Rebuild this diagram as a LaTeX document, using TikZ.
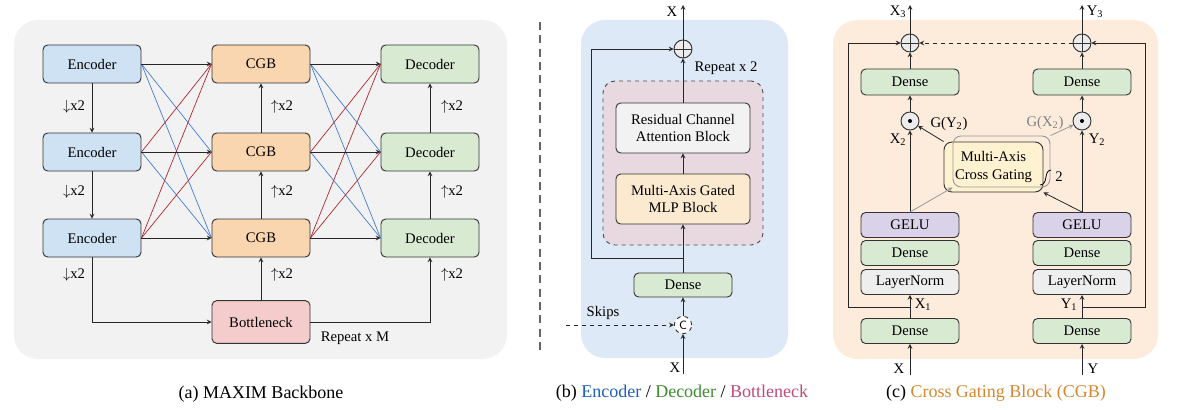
\documentclass[tikz,border=0pt]{standalone}
\usepackage{fontspec}
\setmainfont{Liberation Serif}
\usepackage{xcolor}
\definecolor{panelgray}{RGB}{242,242,242}
\definecolor{panelblue}{RGB}{221,233,246}
\definecolor{panelpeach}{RGB}{253,236,220}
\definecolor{encfill}{RGB}{207,226,243}
\definecolor{cgbfill}{RGB}{249,213,176}
\definecolor{decfill}{RGB}{217,234,211}
\definecolor{botfill}{RGB}{244,204,204}
\definecolor{repeatfill}{RGB}{232,216,224}
\definecolor{rcabfill}{RGB}{242,242,242}
\definecolor{mlpfill}{RGB}{251,234,208}
\definecolor{gelufill}{RGB}{217,210,233}
\definecolor{normfill}{RGB}{238,238,238}
\definecolor{gatefill}{RGB}{255,242,208}
\definecolor{opgray}{RGB}{236,236,236}
\definecolor{linkblue}{RGB}{60,120,216}
\definecolor{linkred}{RGB}{180,30,40}
\definecolor{encblue}{RGB}{30,95,185}
\definecolor{decgreen}{RGB}{60,140,45}
\definecolor{botpink}{RGB}{190,75,120}
\definecolor{cgborange}{RGB}{215,135,45}
\usepackage{tikz}
\usetikzlibrary{calc}
\usetikzlibrary{positioning}
\newcommand{\widthbox}{73.5pt}
\newcommand{\widthblock}{100.5pt}
\newcommand{\heightstage}{28.5pt}
\newcommand{\heightlayer}{18.75pt}
\newcommand{\heightblock}{37.5pt}
\newcommand{\boxfont}{\fontsize{11}{13}\selectfont}
\newcommand{\capfont}{\fontsize{13.5}{15}\selectfont}
\tikzset{
    common/.style={draw=black!80, rectangle, rounded corners=3.5pt, line width=0.7pt, font=\boxfont, align=center, inner sep=1pt},
    stagebox/.style={common, minimum width=\widthbox, minimum height=\heightstage},
    layerbox/.style={common, minimum width=\widthbox, minimum height=\heightlayer},
    blockbox/.style={common, minimum width=\widthblock, minimum height=\heightblock},
    lbl/.style={font=\boxfont, inner sep=1pt},
    op/.style={draw=black!80, circle, minimum size=13.5pt, inner sep=0pt, fill=opgray, line width=0.7pt},
    plusop/.style={op, path picture={
            \draw[black!80, line width=0.6pt]
                (path picture bounding box.north)--(path picture bounding box.south)
                (path picture bounding box.west)--(path picture bounding box.east);
        }
    },
    dotop/.style={op, path picture={ \fill[black] (path picture bounding box.center) circle (1.5pt); }},
    catop/.style={op, fill=white, dashed, minimum size=13pt, font=\sffamily\small},
    flow/.style={->, line width=0.6pt, black!85},
    bluefan/.style={line width=0.5pt, linkblue},
    redfan/.style={line width=0.5pt, linkred}
}

\begin{document}
\begin{tikzpicture}[x=0.75pt, y=-0.75pt, >=stealth]
    \useasboundingbox (0,0) rectangle (1184,410);

    % (a) backbone
    \fill[panelgray, rounded corners=18pt] (14,20) rectangle (507,359);
    \foreach \i/\y in {1/64, 2/152, 3/238} {
        \node[stagebox, fill=encfill] (enc\i) at (92,\y) {Encoder};
        \node[stagebox, fill=cgbfill] (cgb\i) at (261,\y) {CGB};
        \node[stagebox, fill=decfill] (dec\i) at (430,\y) {Decoder};
    }
    \node[stagebox, fill=botfill, minimum height=32pt] (bottle) at (261,322) {Bottleneck};

    \foreach \i/\j in {1/2, 1/3, 2/3} {
        \draw[bluefan] (enc\i.east) -- (cgb\j.west);
        \draw[bluefan] (cgb\i.east) -- (dec\j.west);
    }
    \foreach \i/\j in {2/1, 3/1, 3/2} {
        \draw[redfan] (enc\i.east) -- (cgb\j.west);
        \draw[redfan] (cgb\i.east) -- (dec\j.west);
    }
    \foreach \i in {1,2,3} {
        \draw[flow] (enc\i) -- (cgb\i);
        \draw[flow] (cgb\i) -- (dec\i);
    }
    \draw[flow] (enc1) -- (enc2);
    \draw[flow] (enc2) -- (enc3);
    \draw[flow] (cgb3) -- (cgb2);
    \draw[flow] (cgb2) -- (cgb1);
    \draw[flow] (dec3) -- (dec2);
    \draw[flow] (dec2) -- (dec1);
    \draw[flow] (bottle) -- (cgb3);
    \draw[flow] (enc3.south) |- (bottle.west);
    \draw[flow] (bottle.east) -| (dec3.south);

    \foreach \y [count=\k] in {107, 192, 275} {
        \node[lbl] (down\k) at (74,\y) {$\downarrow$x2};
        \node[lbl] (upc\k) at (282,\y) {$\uparrow$x2};
        \node[lbl] (upd\k) at (452,\y) {$\uparrow$x2};
    }
    \node[lbl] (repeatM) at (355,338) {Repeat x M};
    \node[font=\capfont] (capA) at (261,394) {(a) MAXIM Backbone};

    \coordinate (sepTop) at (540,22);
    \coordinate (sepBot) at (540,354);
    \draw[black!60, line width=0.8pt, dash pattern=on 6pt off 4pt] (sepTop) -- (sepBot);

    % (b) encoder / decoder / bottleneck
    \fill[panelblue, rounded corners=18pt] (581,20) rectangle (788,358);
    \node[draw=black!70, dashed, fill=repeatfill, rounded corners=9pt, line width=0.7pt,
          minimum width=120pt, minimum height=123pt] (repeatB) at (683,163) {};
    \node[blockbox, fill=rcabfill] (rcab) at (683,128) {Residual Channel\\Attention Block};
    \node[blockbox, fill=mlpfill] (mlp) at (683,199) {Multi-Axis Gated\\MLP Block};
    \node[layerbox, fill=decfill, minimum height=18pt] (denseB) at (683,285) {Dense};
    \node[plusop] (addB) at (683,49) {};
    \node[catop] (catB) at (683,325) {C};
    \coordinate (outB) at (683,5);
    \coordinate (inB) at (683,374);
    \coordinate (skipB) at (566,325);
    \coordinate (splitB) at (683,258);

    \draw[flow] (inB) -- (catB);
    \draw[flow, dashed] (skipB) -- (catB);
    \draw[flow] (catB) -- (denseB);
    \draw[flow] (denseB) -- (mlp);
    \draw[flow] (mlp) -- (rcab);
    \draw[flow] (rcab) -- (addB);
    \draw[flow] (addB) -- (outB);
    \draw[flow] (splitB) -- ++(-92,0) |- (addB.west);

    \node[lbl] (xoutB) at (672,12) {X};
    \node[lbl] (xinB) at (675,368) {X};
    \node[lbl] (repeat2) at (726,68) {Repeat x 2};
    \node[lbl] (skips) at (603,313) {Skips};
    \node[font=\capfont] (capB) at (682,393) {(b) \textcolor{encblue}{Encoder} / \textcolor{decgreen}{Decoder} / \textcolor{botpink}{Bottleneck}};

    % (c) cross gating block
    \fill[panelpeach, rounded corners=18pt] (833,20) rectangle (1158,359);
    \foreach \s/\x in {X/910, Y/1082} {
        \node[plusop] (add\s) at (\x,43) {};
        \node[layerbox, fill=decfill, minimum height=19.5pt] (top\s) at (\x,82) {Dense};
        \node[dotop] (dot\s) at (\x,121) {};
        \node[layerbox, fill=gelufill] (gelu\s) at (\x,225) {GELU};
        \node[layerbox, fill=decfill] (mid\s) at (\x,253) {Dense};
        \node[layerbox, fill=normfill] (norm\s) at (\x,282) {LayerNorm};
        \node[layerbox, fill=decfill] (low\s) at (\x,331) {Dense};
        \coordinate (in\s) at (\x,375);
        \coordinate (out\s) at (\x,5);
        \coordinate (split\s) at (\x,307);
        \draw[flow] (in\s) -- (low\s);
        \draw[flow] (low\s) -- (norm\s);
        \draw[flow] (gelu\s) -- (dot\s);
        \draw[flow] (dot\s) -- (top\s);
        \draw[flow] (top\s) -- (add\s);
        \draw[flow] (add\s) -- (out\s);
    }
    \draw[flow] (splitX) -- ++(-62,0) |- (addX.west);
    \draw[flow] (splitY) -- ++(63,0) |- (addY.east);
    \draw[flow, dashed] (addY.west) -- (addX.east);

    \node[common, fill=gatefill, minimum width=74.25pt, minimum height=37.5pt, rounded corners=6pt] (gate) at (993.5,167) {Multi-Axis\\Cross Gating};
    \node[draw=black!40, rectangle, rounded corners=6pt, line width=0.7pt,
          minimum width=72.75pt, minimum height=38.25pt] (gateback) at (1001.5,161.5) {};
    \draw[line width=0.6pt] (1040,185) .. controls (1049,184) and (1043,171) .. (1051,170);
    \node[lbl] (copies) at (1059,177) {2};

    \draw[flow, black!40] (geluX.north) -- (gateback.south west);
    \draw[flow] (geluY.north) -- (gate.south east);
    \draw[flow] (gate.north west) -- (dotX);
    \draw[flow, black!40] (gateback.north east) -- (dotY);

    \node[lbl] (gY) at (949,124) {G(Y\textsubscript{2})};
    \node[lbl, black!50] (gX) at (1045,123) {G(X\textsubscript{2})};
    \node[lbl] (x3) at (898,12) {X\textsubscript{3}};
    \node[lbl] (y3) at (1095,12) {Y\textsubscript{3}};
    \node[lbl] (x2) at (898,140) {X\textsubscript{2}};
    \node[lbl] (y2) at (1097,140) {Y\textsubscript{2}};
    \node[lbl] (x1) at (923,305) {X\textsubscript{1}};
    \node[lbl] (y1) at (1069,305) {Y\textsubscript{1}};
    \node[lbl] (xin) at (899,369) {X};
    \node[lbl] (yin) at (1093,369) {Y};
    \node[font=\capfont] (capC) at (996,393) {(c) \textcolor{cgborange}{Cross Gating Block (CGB)}};
\end{tikzpicture}
\end{document}
